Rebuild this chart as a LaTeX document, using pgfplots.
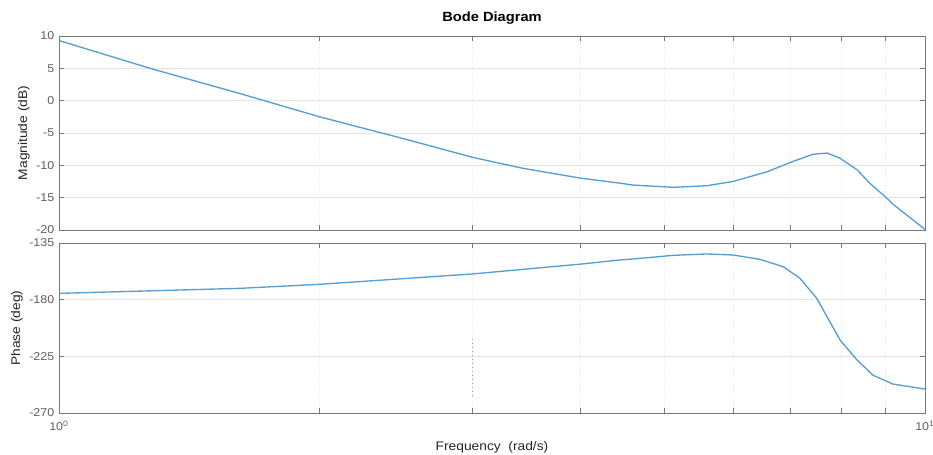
\documentclass[border=0pt]{standalone}
\usepackage{fontspec}
\setmainfont{Liberation Sans}[FakeStretch=1.1]
\usepackage{pgfplots}
\pgfplotsset{compat=1.18}
\definecolor{mline}{RGB}{85,158,210}
\definecolor{axgray}{RGB}{120,120,120}
\definecolor{tlgray}{RGB}{95,95,95}
\definecolor{lblc}{RGB}{38,38,38}
\definecolor{gridc}{RGB}{228,228,228}
\begin{document}
\begin{tikzpicture}
\useasboundingbox (0,0) rectangle (699.75pt,-340.5pt);
\begin{semilogxaxis}[
  xmin=1, xmax=10,
  width=649.5pt, scale only axis,
  axis line style={axgray},
  every tick/.style={axgray, line width=0.5pt},
  major tick length=4pt, minor tick length=4pt,
  tick align=inside,
  xtick={1,10}, minor xtick={2,3,4,5,6,7,8,9},
  xminorgrids=true, ymajorgrids=true,
  minor x grid style={gridc, dotted, line width=0.5pt},
  major y grid style={gridc, line width=0.6pt},
  tick label style={font=\fontsize{8.5}{10}\selectfont, text=tlgray},
  label style={font=\fontsize{9.4}{11}\selectfont, text=lblc},
  /pgf/number format/assume math mode=true,
  clip=false,
  at={(44.25pt,-27pt)}, anchor=north west,
  height=145.5pt,
  ymin=-20, ymax=10, ytick={-20,-15,...,10},
  xticklabels={},
  ylabel={Magnitude (dB)},
  ylabel style={at={(axis description cs:-0.0404,0.5)}, anchor=center},
]
\addplot[mline, line width=1pt] coordinates {
(1.000, 9.3) (1.274, 5.0) (1.618, 1.1) (2.000, -2.5) (2.520, -6.0)
(3.000, -8.75) (3.430, -10.45) (4.010, -12.0) (4.440, -12.75) (4.600, -13.05)
(5.120, -13.4) (5.600, -13.15) (6.000, -12.5) (6.570, -11.0) (7.040, -9.4)
(7.420, -8.3) (7.710, -8.1) (7.980, -8.9) (8.350, -10.7) (8.640, -12.8)
(9.040, -15.1) (9.180, -16.0) (10.000, -19.9)
};
\node[anchor=center, font=\bfseries\fontsize{10}{12}\selectfont, text=black] at (axis description cs:0.5,1.093) {Bode Diagram};
\end{semilogxaxis}
\begin{semilogxaxis}[
  xmin=1, xmax=10,
  width=649.5pt, scale only axis,
  axis line style={axgray},
  every tick/.style={axgray, line width=0.5pt},
  major tick length=4pt, minor tick length=4pt,
  tick align=inside,
  xtick={1,10}, minor xtick={2,3,4,5,6,7,8,9},
  xminorgrids=true, ymajorgrids=true,
  minor x grid style={gridc, dotted, line width=0.5pt},
  major y grid style={gridc, line width=0.6pt},
  tick label style={font=\fontsize{8.5}{10}\selectfont, text=tlgray},
  label style={font=\fontsize{9.4}{11}\selectfont, text=lblc},
  /pgf/number format/assume math mode=true,
  clip=false,
  at={(44.25pt,-182.25pt)}, anchor=north west,
  height=127.5pt,
  ymin=-270, ymax=-135, ytick={-270,-225,-180,-135},
  xticklabels={10\textsuperscript{0},10\textsuperscript{1}},
  xticklabel style={yshift=-2.5pt},
  ylabel={Phase (deg)},
  ylabel style={at={(axis description cs:-0.0485,0.5)}, anchor=center},
  xlabel={Frequency\ \ (rad/s)},
  xlabel style={at={(axis description cs:0.5,-0.2)}, anchor=center},
]
\addplot[mline, line width=1pt] coordinates {
(1.000, -175.0) (1.618, -171.0) (2.000, -167.8) (3.000, -159.6) (4.010, -151.7)
(4.440, -148.5) (4.600, -147.7) (5.120, -144.8) (5.600, -143.7) (6.000, -144.5)
(6.450, -148.0) (6.860, -153.8) (7.170, -163.0) (7.500, -178.9) (7.980, -212.0)
(8.350, -228.0) (8.710, -240.0) (9.180, -247.0) (10.000, -251.0)
};
\addplot[gray!75, dotted, line width=1pt, forget plot] coordinates {(3,-211) (3,-258)};
\end{semilogxaxis}
\end{tikzpicture}
\end{document}
